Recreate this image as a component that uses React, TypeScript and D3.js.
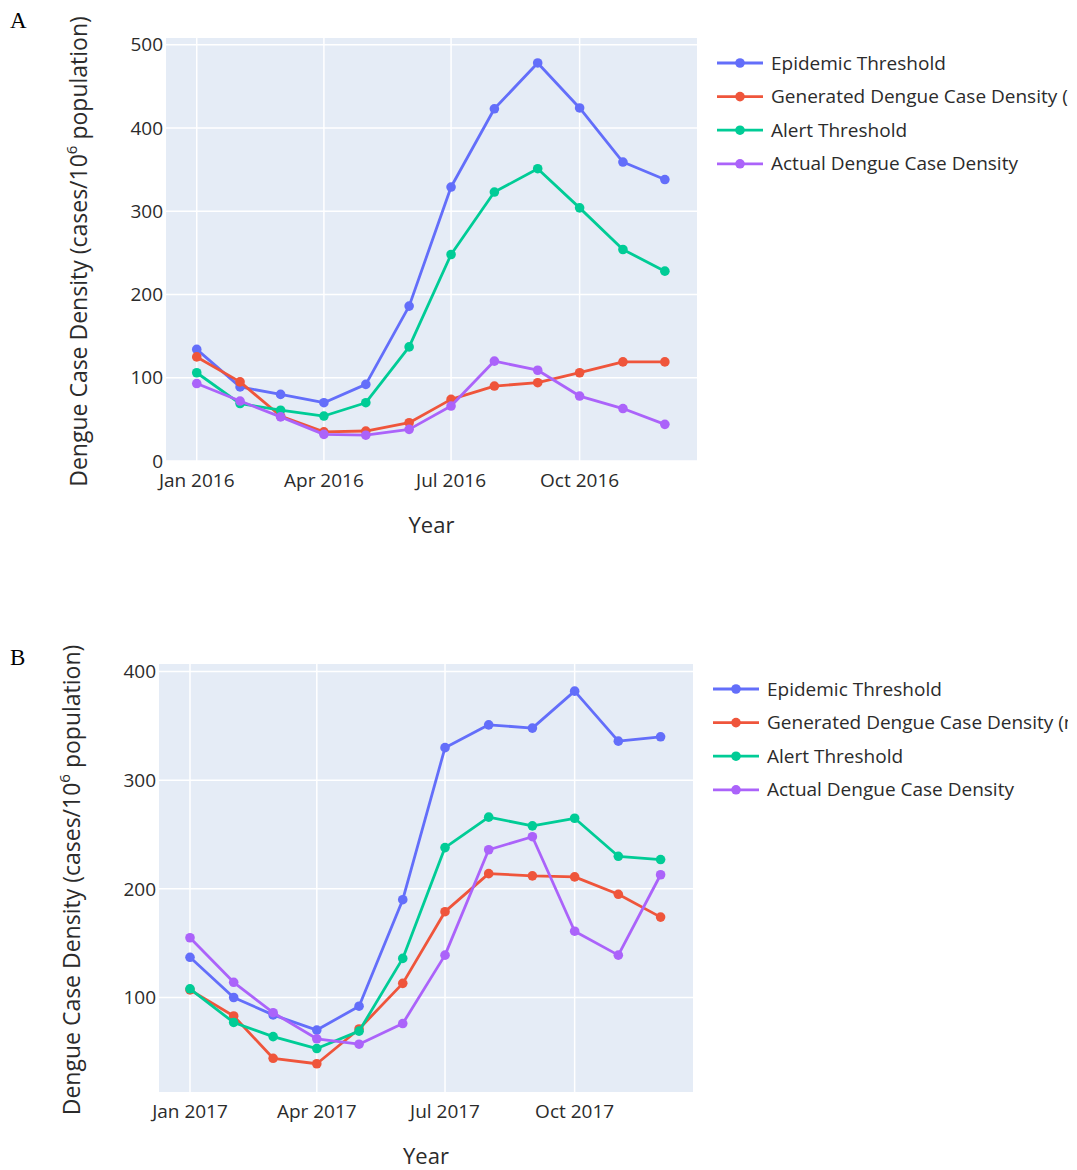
import * as d3 from 'd3'

const months2016 = ['2016-01-01', '2016-02-01', '2016-03-01', '2016-04-01', '2016-05-01', '2016-06-01', '2016-07-01', '2016-08-01', '2016-09-01', '2016-10-01', '2016-11-01', '2016-12-01']
const months2017 = ['2017-01-01', '2017-02-01', '2017-03-01', '2017-04-01', '2017-05-01', '2017-06-01', '2017-07-01', '2017-08-01', '2017-09-01', '2017-10-01', '2017-11-01', '2017-12-01']

const seriesNames = ['Epidemic Threshold', 'Generated Dengue Case Density (model)', 'Alert Threshold', 'Actual Dengue Case Density']
const seriesColors = ['#636efa', '#EF553B', '#00cc96', '#ab63fa']

// panel A (2016)
const epidemic2016 = [134, 89, 80, 70, 92, 186, 329, 423, 478, 424, 359, 338]
const generated2016 = [125, 95, 54, 35, 36, 46, 74, 90, 94, 106, 119, 119]
const alert2016 = [106, 69, 61, 54, 70, 137, 248, 323, 351, 304, 254, 228]
const actual2016 = [93, 72, 53, 32, 31, 38, 66, 120, 109, 78, 63, 44]
const yTicks2016 = [0, 100, 200, 300, 400, 500]

// panel B (2017)
const epidemic2017 = [137, 100, 84, 70, 92, 190, 330, 351, 348, 382, 336, 340]
const generated2017 = [107, 83, 44, 39, 71, 113, 179, 214, 212, 211, 195, 174]
const alert2017 = [108, 77, 64, 53, 69, 136, 238, 266, 258, 265, 230, 227]
const actual2017 = [155, 114, 86, 62, 57, 76, 139, 236, 248, 161, 139, 213]
const yTicks2017 = [100, 200, 300, 400]

const FONT = '"Open Sans", "Noto Sans", sans-serif'
const TEXT = '#2b2b2b'

type PanelProps = {
  label: string
  months: string[]
  series: number[][]
  yDomain: [number, number]
  yTicks: number[]
  left: number
  right: number
  top: number
  bottom: number
  labelY: number
}

function Panel({ label, months, series, yDomain, yTicks, left, right, top, bottom, labelY }: PanelProps) {
  const dates = months.map(m => new Date(m + 'T00:00:00Z'))
  const x = d3.scaleUtc()
    .domain([d3.utcDay.offset(dates[0], -22), d3.utcDay.offset(dates[dates.length - 1], 23)])
    .range([left, right])
  const y = d3.scaleLinear().domain(yDomain).range([bottom, top])
  const xTicks = d3.utcMonth.every(3)!.range(d3.utcMonth.floor(dates[0]), d3.utcDay.offset(dates[dates.length - 1], 1))
  const fmt = d3.utcFormat('%b %Y')
  const line = d3.line<number>().x((d, i) => x(dates[i])).y(d => y(d))
  const clipId = 'clip-' + label
  const legendX = right + 20

  return (
    <g>
      <text x={10} y={labelY} fontFamily='"Liberation Serif", "DejaVu Serif", serif' fontSize={23} fill='#000'>{label}</text>
      <rect x={left} y={top} width={right - left} height={bottom - top} fill='#E5ECF6' />
      {yTicks.map(t => (
        <line key={'gy' + t} x1={left} x2={right} y1={y(t)} y2={y(t)} stroke='#fff' strokeWidth={1.5} />
      ))}
      {xTicks.map(t => (
        <line key={'gx' + t.getTime()} x1={x(t)} x2={x(t)} y1={top} y2={bottom} stroke='#fff' strokeWidth={1.5} />
      ))}
      {yTicks.map(t => (
        <text key={'ty' + t} x={left - 3} y={y(t)} dy='0.35em' textAnchor='end' fontFamily={FONT} fontSize={19} fill={TEXT}>{t}</text>
      ))}
      {xTicks.map(t => (
        <text key={'tx' + t.getTime()} x={x(t)} y={bottom + 26} textAnchor='middle' fontFamily={FONT} fontSize={19} fill={TEXT}>{fmt(t)}</text>
      ))}
      <text x={(left + right) / 2} y={bottom + 72} textAnchor='middle' fontFamily={FONT} fontSize={22} fill={TEXT}>Year</text>
      <text transform={`translate(${left - 79},${(top + bottom) / 2 + 2}) rotate(-90)`} textAnchor='middle' fontFamily={FONT} fontSize={23} fill={TEXT}>
        Dengue Case Density (cases/10<tspan fontSize={15} dy={-10}>6</tspan><tspan dy={10}> population)</tspan>
      </text>
      {series.map((s, si) => (
        <g key={'s' + si}>
          <path d={line(s) ?? ''} fill='none' stroke={seriesColors[si]} strokeWidth={2.8} strokeLinejoin='round' />
          {s.map((v, i) => (
            <circle key={i} cx={x(dates[i])} cy={y(v)} r={4.8} fill={seriesColors[si]} />
          ))}
        </g>
      ))}
      <defs>
        <clipPath id={clipId}>
          <rect x={legendX - 5} y={top} width={1068 - legendX + 5} height={200} />
        </clipPath>
      </defs>
      <g clipPath={`url(#${clipId})`}>
        {seriesNames.map((n, i) => {
          const ly = top + 25 + i * 33.6
          return (
            <g key={'l' + i}>
              <line x1={legendX} x2={legendX + 46} y1={ly} y2={ly} stroke={seriesColors[i]} strokeWidth={2.8} />
              <circle cx={legendX + 23} cy={ly} r={4.8} fill={seriesColors[i]} />
              <text x={legendX + 54} y={ly} dy='0.35em' fontFamily={FONT} fontSize={19} fill={TEXT}>{n}</text>
            </g>
          )
        })}
      </g>
    </g>
  )
}

export default function App() {
  return (
    <svg width={1077} height={1170} style={{ position: 'absolute', left: 0, top: 0, background: '#fff' }}>
      <Panel
        label='A'
        months={months2016}
        series={[epidemic2016, generated2016, alert2016, actual2016]}
        yDomain={[0, 508]}
        yTicks={yTicks2016}
        left={166}
        right={697}
        top={38}
        bottom={461}
        labelY={28}
      />
      <Panel
        label='B'
        months={months2017}
        series={[epidemic2017, generated2017, alert2017, actual2017]}
        yDomain={[13, 407]}
        yTicks={yTicks2017}
        left={159}
        right={693}
        top={664}
        bottom={1092}
        labelY={665}
      />
    </svg>
  )
}
